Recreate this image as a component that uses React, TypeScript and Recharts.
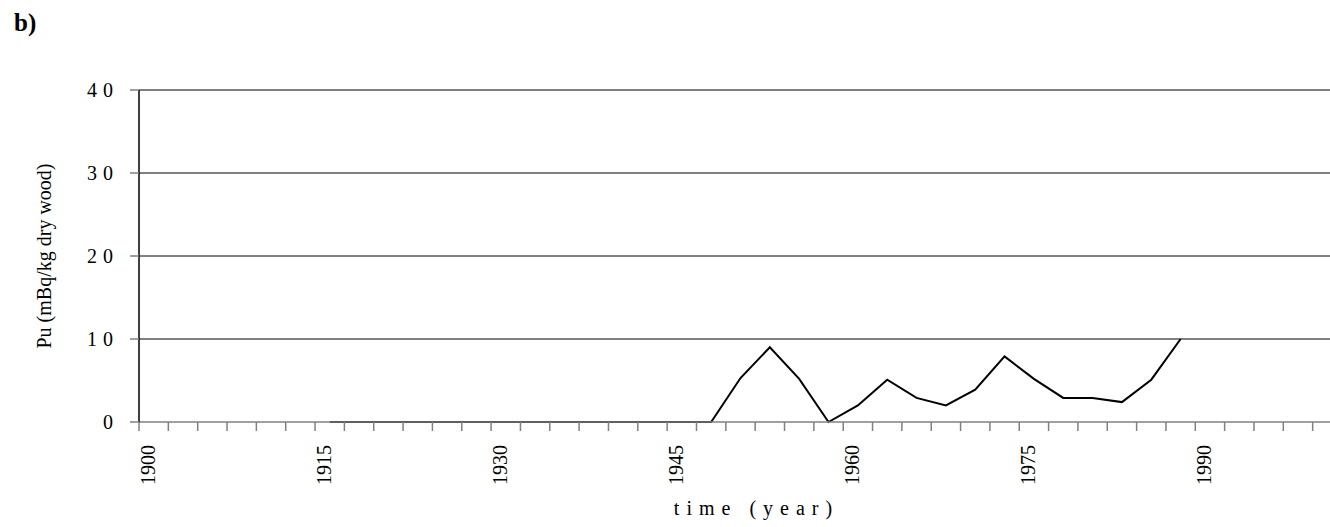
import React from "react";
import { LineChart, Line, XAxis, YAxis, CartesianGrid, Label } from "recharts";

// category slots on the time axis (2.5 year steps, Excel-like "between tick marks")
const categories = [
  1900, 1902.5, 1905, 1907.5, 1910, 1912.5, 1915, 1917.5, 1920, 1922.5,
  1925, 1927.5, 1930, 1932.5, 1935, 1937.5, 1940, 1942.5, 1945, 1947.5,
  1950, 1952.5, 1955, 1957.5, 1960, 1962.5, 1965, 1967.5, 1970, 1972.5,
  1975, 1977.5, 1980, 1982.5, 1985, 1987.5, 1990, 1992.5, 1995, 1997.5, 2000,
];

const years = [
  1915, 1917.5, 1920, 1922.5, 1925, 1927.5, 1930, 1932.5, 1935, 1937.5,
  1940, 1942.5, 1945, 1947.5, 1950, 1952.5, 1955, 1957.5, 1960, 1962.5,
  1965, 1967.5, 1970, 1972.5, 1975, 1977.5, 1980, 1982.5, 1985, 1987.5,
];

const pu = [
  0, 0, 0, 0, 0, 0, 0, 0, 0, 0,
  0, 0, 0, 0, 5.3, 9.0, 5.2, 0, 2.0, 5.1,
  2.9, 2.0, 3.9, 7.9, 5.2, 2.9, 2.9, 2.4, 5.1, 10,
];

const yTicks = [0, 10, 20, 30, 40];
const gridValues = [10, 20, 30, 40];
const yearLabels = [1900, 1915, 1930, 1945, 1960, 1975, 1990];

const half = 1.25;
const edges = [...categories.map((c) => c - half), categories[categories.length - 1] + half];
const domain = [edges[0], edges[edges.length - 1]];

const data = years.map((year, i) => ({ year, pu: pu[i] }));

const FONT = "'Liberation Serif', 'Times New Roman', serif";
const AXIS_GRAY = "#808080";

const YTick = ({ x, y, payload }: any) => (
  <text x={x - 9} y={y} dy={7} textAnchor="end" fontSize={20} fontFamily={FONT} letterSpacing={6} fill="#000">
    {payload.value}
  </text>
);

const NoLabel = () => <g />;

const YearTick = ({ x, y, payload }: any) => (
  <text
    transform={`translate(${x + 1.5},${y + 13}) rotate(-90)`}
    textAnchor="end"
    fontSize={20}
    fontFamily={FONT}
    fill="#000"
  >
    {payload.value}
  </text>
);

export default function App() {
  return (
    <div style={{ position: "absolute", left: 0, top: 0, width: 1330, height: 527, overflow: "hidden", background: "#fff" }}>
      <svg width={60} height={40} style={{ position: "absolute", left: 0, top: 0 }}>
        <text x={14} y={31} fontSize={25} fontWeight="bold" fontFamily={FONT}>
          b)
        </text>
      </svg>
      <LineChart width={1344} height={527} data={data} margin={{ top: 90, right: 2, left: 0, bottom: 0 }}>
        <CartesianGrid vertical={false} horizontalValues={gridValues} stroke="#000" strokeWidth={1} />
        <XAxis
          dataKey="year"
          type="number"
          domain={domain}
          ticks={edges}
          interval={0}
          height={10}
          tickSize={9}
          tick={<NoLabel />}
          axisLine={{ stroke: AXIS_GRAY, strokeWidth: 1.5 }}
          tickLine={{ stroke: AXIS_GRAY, strokeWidth: 1.5 }}
          allowDataOverflow
        />
        <XAxis
          xAxisId="labels"
          dataKey="year"
          type="number"
          domain={domain}
          ticks={yearLabels}
          interval={0}
          height={95}
          tickSize={0}
          tickMargin={0}
          axisLine={false}
          tickLine={false}
          tick={<YearTick />}
          allowDataOverflow
        >
          <Label
            content={({ viewBox }: any) => (
              <text
                x={viewBox.x + viewBox.width / 2 + 16}
                y={515}
                textAnchor="middle"
                fontSize={20}
                fontFamily={FONT}
                letterSpacing={7}
                fill="#000"
              >
                time (year)
              </text>
            )}
          />
        </XAxis>
        <YAxis
          domain={[0, 40]}
          ticks={yTicks}
          interval={0}
          width={139}
          tickSize={9}
          tick={<YTick />}
          axisLine={{ stroke: "#000", strokeWidth: 1.5 }}
          tickLine={{ stroke: AXIS_GRAY, strokeWidth: 1.5 }}
        >
          <Label
            content={({ viewBox }: any) => {
              const cx = 51;
              const cy = viewBox.y + viewBox.height / 2;
              return (
                <text
                  x={cx}
                  y={cy}
                  transform={`rotate(-90, ${cx}, ${cy})`}
                  textAnchor="middle"
                  fontSize={20}
                  fontFamily={FONT}
                  fill="#000"
                >
                  Pu (mBq/kg dry wood)
                </text>
              );
            }}
          />
        </YAxis>
        <Line
          xAxisId="labels"
          type="linear"
          dataKey="pu"
          stroke="none"
          dot={false}
          activeDot={false}
          legendType="none"
          isAnimationActive={false}
        />
        <Line
          type="linear"
          dataKey="pu"
          stroke="#000"
          strokeWidth={2}
          dot={false}
          activeDot={false}
          isAnimationActive={false}
        />
      </LineChart>
    </div>
  );
}
